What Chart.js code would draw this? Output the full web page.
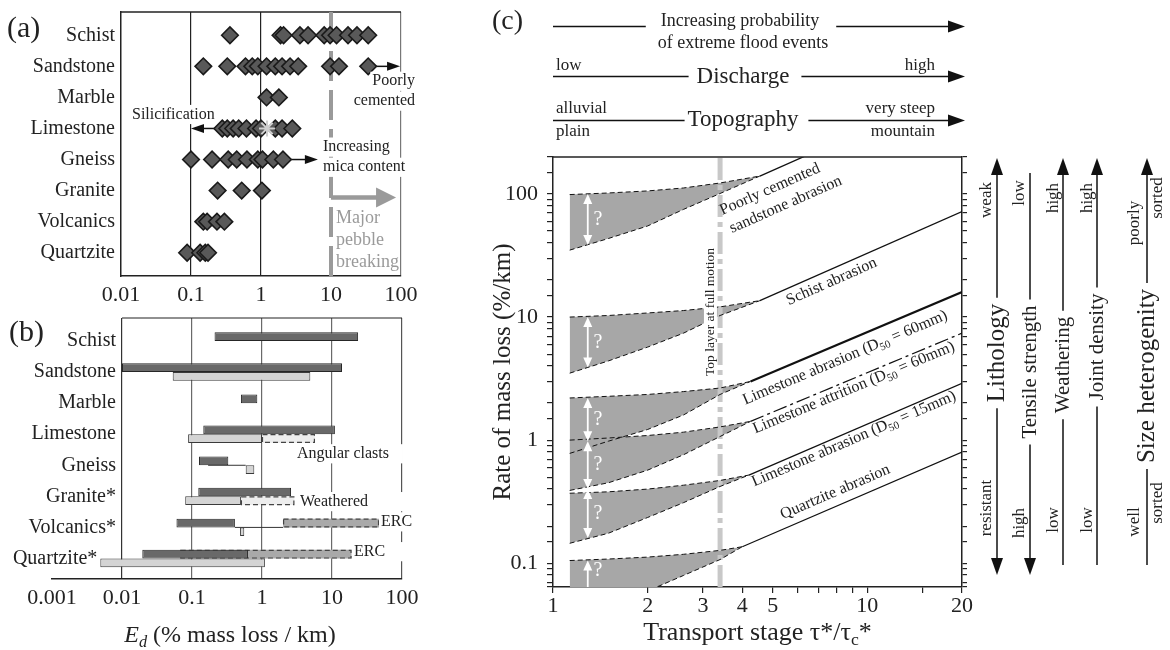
<!DOCTYPE html>
<html><head><meta charset="utf-8">
<script src="https://cdn.jsdelivr.net/npm/chart.js@4.4.0/dist/chart.umd.min.js"></script>
<style>
html,body{margin:0;padding:0;background:#fff;width:1170px;height:650px;overflow:hidden;}
.box{position:absolute;}
</style></head><body>
<div class="box" style="left:0;top:0;width:440px;height:312px"><canvas id="ca" width="440" height="312"></canvas></div>
<div class="box" style="left:0;top:300px;width:440px;height:350px"><canvas id="cb" width="440" height="350"></canvas></div>
<div class="box" style="left:440px;top:0;width:730px;height:650px"><canvas id="cc" width="730" height="650"></canvas></div>
<script>
const FONT = "'Liberation Serif','Times New Roman',serif";
Chart.defaults.font.family = FONT;
Chart.defaults.color = '#222';

// ---------- Panel (a) data ----------
const catsA = ['Schist','Sandstone','Marble','Limestone','Gneiss','Granite','Volcanics','Quartzite'];
const schistA = [0.36, 1.9, 2.1, 3.6, 4.7, 8.0, 9.7, 12, 17.5, 23.5, 34];
const sandstoneA = [0.15, 0.33, 0.6, 0.75, 0.9, 1.2, 1.6, 2.0, 2.6, 3.4, 9.7, 13, 34];
const marbleA = [1.2, 1.8];
const limestoneA = [0.28, 0.33, 0.4, 0.48, 0.62, 0.85, 1.0, 1.6, 2.0, 2.8];
const gneissA = [0.1, 0.2, 0.34, 0.45, 0.63, 0.9, 1.05, 1.5, 2.06];
const graniteA = [0.24, 0.53, 1.03];
const volcanicsA = [0.15, 0.17, 0.235, 0.3];
const quartziteA = [0.088, 0.135, 0.16, 0.175];
const starLimestoneA = [1.22];
const arrowCatA = [1, 3, 4];
const arrowFromA = [34, 0.28, 2.06];
const arrowToA = [97, 0.1, 6.5];
const breakLineA = 10;
const pebbleArrowA = [10, 85];
const pebbleArrowRowA = 5.22;
const tickLabelsA = ['0.01','0.1','1','10','100'];

// ---------- Panel (b) data ----------
const catsB = ['Schist','Sandstone','Marble','Limestone','Gneiss','Granite*','Volcanics*','Quartzite*'];
const darkLoB = [0.21, 0.01, 0.5, 0.145, 0.126, 0.123, 0.06, 0.0195];
const darkHiB = [23.6, 13.9, 0.857, 11.0, 0.33, 2.6, 0.41, 0.63];
const lightLoB = [null, 0.053, null, 0.088, 0.585, 0.08, 0.486, 0.0049];
const lightHiB = [null, 4.9, null, 1.0, 0.776, 0.5, 0.558, 1.1];
const extLoB = [null, null, null, 1.0, null, 0.5, null, null];
const extHiB = [null, null, null, 5.7, null, 2.9, null, null];
const ercLoB = [null, null, null, null, null, null, 2.0, 0.068];
const ercHiB = [null, null, null, null, null, null, 47, 19];
const linkLoB = [null, null, null, null, 0.17, null, 0.41, null];
const linkHiB = [null, null, null, null, 0.585, null, 2.0, null];
const tickLabelsB = ['0.001','0.01','0.1','1','10','100'];

// ---------- Panel (c) data ----------
const wedgeX = [1.13, 1.5, 2, 2.6, 3.4];
const sandUp = [99, 102, 106, 112, 123], sandLow = [35, 43.5, 55, 75, 101], sandMeet = [4.55, 140], sandEnd = 746;
const schistUp = [10, 10.3, 10.8, 11.3, 12.1], schistLow = [3.5, 4.4, 5.7, 7.4, 10.3], schistMeet = [4.55, 13.6], schistEnd = 72;
const lime60Up = [2.2, 2.27, 2.35, 2.48, 2.65], lime60Low = [0.78, 0.98, 1.22, 1.6, 2.35], lime60Meet = [4.25, 3.0], lime60End = 16;
const attrUp = [1.0, 1.04, 1.09, 1.16, 1.28], attrLow = [0.39, 0.45, 0.57, 0.76, 1.07], attrMeet = [4.25, 1.42], attrEnd = 7.4;
const lime15Up = [0.37, 0.38, 0.40, 0.43, 0.47], lime15Low = [0.145, 0.175, 0.235, 0.31, 0.42], lime15Meet = [4.2, 0.52], lime15End = 2.9;
const quartzUp = [0.105, 0.108, 0.112, 0.118, 0.127], quartzLow = [0.0315, 0.0432, 0.0594, 0.0794, 0.107], quartzMeet = [4.0, 0.136], quartzEnd = 0.8;
const topLayerX = 3.4;
const qArrowX = 1.29, qTextX = 1.39;
const qTop = [100, 10, 2.2, 0.98, 0.4, 0.105];
const qBot = [38.5, 3.9, 0.98, 0.4, 0.16, 0.05];
const qTextY = [62, 6.2, 1.47, 0.63, 0.25, 0.0875];
const tickLabelsCX = [1, 2, 3, 4, 5, 10, 20];
const tickLabelsCY = ['0.1','1','10','100'];
const labelXC = [4.9, 5.5, 7.7, 8.5, 9.06, 9.06, 7.9];
const labelYC = [109, 82, 19.4, 4.67, 2.66, 1.02, 0.378];
const labelLineC = [0, 0, 1, 2, 3, 4, 5];
const labelTextC = [
  [['Poorly cemented','']],
  [['sandstone abrasion','']],
  [['Schist abrasion','']],
  [['Limestone abrasion (D',''],['50','sub'],[' = 60mm)','']],
  [['Limestone attrition (D',''],['50','sub'],[' = 60mm)','']],
  [['Limestone abrasion (D',''],['50','sub'],[' = 15mm)','']],
  [['Quartzite abrasion','']]
];

// ---------- helpers ----------
function decade(v){ const l=Math.log10(v), r=Math.round(l); return Math.abs(l-r)<1e-7 ? r : null; }
function line(ctx,x1,y1,x2,y2,color,lw,dash){ ctx.beginPath(); ctx.moveTo(x1,y1); ctx.lineTo(x2,y2); ctx.strokeStyle=color; ctx.lineWidth=lw; ctx.setLineDash(dash||[]); ctx.stroke(); ctx.setLineDash([]); }
function txt(ctx,s,x,y,o){ o=o||{}; const size=o.size||16;
  ctx.font=(o.italic?'italic ':'')+size+'px '+FONT; ctx.textAlign=o.align||'left'; ctx.textBaseline='middle';
  if(o.bg){ const w=ctx.measureText(s).width; const x0=o.align==='center'?x-w/2:o.align==='right'?x-w:x;
    const pl=o.padL!=null?o.padL:2, pr=o.padR!=null?o.padR:2; ctx.fillStyle='#fff'; ctx.fillRect(x0-pl,y-size*0.6,w+pl+pr,size*1.2); }
  ctx.fillStyle=o.color||'#222'; ctx.fillText(s,x,y); }
function rich(ctx,segs,x,y,size,align,color){
  let w=0; const parts=segs.map(([t,st])=>{ const sub=st.indexOf('sub')>=0; const fs=sub?size*0.68:size;
    const f=(st.indexOf('i')===0?'italic ':'')+fs+'px '+FONT; ctx.font=f; const mw=ctx.measureText(t).width; w+=mw;
    return {t,f,mw,dy:sub?size*0.3:0}; });
  let cx=align==='center'?x-w/2:align==='right'?x-w:x;
  ctx.fillStyle=color||'#222'; ctx.textBaseline='middle'; ctx.textAlign='left';
  parts.forEach(p=>{ ctx.font=p.f; ctx.fillText(p.t,cx,y+p.dy); cx+=p.mw; }); return w; }
function head(ctx,x,y,ang,len,hw,color){ ctx.beginPath(); ctx.moveTo(x,y);
  ctx.lineTo(x-len*Math.cos(ang)-hw*Math.sin(ang), y-len*Math.sin(ang)+hw*Math.cos(ang));
  ctx.lineTo(x-len*Math.cos(ang)+hw*Math.sin(ang), y-len*Math.sin(ang)-hw*Math.cos(ang));
  ctx.closePath(); ctx.fillStyle=color; ctx.fill(); }
function arrow(ctx,x1,y1,x2,y2,o){ const ang=Math.atan2(y2-y1,x2-x1);
  let sx=x1,sy=y1,ex=x2,ey=y2; const h2=o.head2!==false;
  if(h2){ ex=x2-o.len*0.7*Math.cos(ang); ey=y2-o.len*0.7*Math.sin(ang); }
  if(o.head1){ sx=x1+o.len*0.7*Math.cos(ang); sy=y1+o.len*0.7*Math.sin(ang); }
  line(ctx,sx,sy,ex,ey,o.color,o.lw);
  if(h2) head(ctx,x2,y2,ang,o.len,o.hw,o.color);
  if(o.head1) head(ctx,x1,y1,ang+Math.PI,o.len,o.hw,o.color); }
function rtxt(ctx,s,x,y,o){ ctx.save(); ctx.translate(x,y); ctx.rotate(-Math.PI/2); txt(ctx,s,0,0,o); ctx.restore(); }
function noPad(s){ s.paddingTop=0; s.paddingBottom=0; s.paddingLeft=0; s.paddingRight=0; }

// ---------- Chart A ----------
const ptsA = [schistA,sandstoneA,marbleA,limestoneA,gneissA,graniteA,volcanicsA,quartziteA]
  .flatMap((arr,i)=>arr.map(v=>({x:v,y:i})));
const pluginA = {
  id:'annA',
  beforeDatasetsDraw(chart){
    const {ctx, chartArea:ca, scales:{x,y}} = chart; ctx.save();
    line(ctx, ca.left, ca.top, ca.right, ca.top, '#222', 1.5);
    const xb = x.getPixelForValue(breakLineA);
    line(ctx, xb, ca.top, xb, ca.bottom, '#9a9a9a', 4, [30,9]);
    const py = y.getPixelForValue(pebbleArrowRowA);
    arrow(ctx, xb, py, x.getPixelForValue(pebbleArrowA[1]), py, {color:'#9a9a9a', lw:4.5, len:20, hw:10});
    arrowCatA.forEach((c,i)=>{ const yy=y.getPixelForValue(c);
      arrow(ctx, x.getPixelForValue(arrowFromA[i]), yy, x.getPixelForValue(arrowToA[i]), yy, {color:'#111', lw:1.5, len:13, hw:4.5}); });
    ctx.restore();
  },
  afterDraw(chart){
    const {ctx, scales:{x,y}} = chart; ctx.save();
    txt(ctx,'(a)',7,29,{size:30});
    txt(ctx,'Silicification',132,y.getPixelForValue(2.55),{size:16,bg:true});
    txt(ctx,'Poorly',415,y.getPixelForValue(1.48),{size:16,align:'right',bg:true});
    txt(ctx,'cemented',415,y.getPixelForValue(2.12),{size:16,align:'right',bg:true});
    txt(ctx,'Increasing',323,y.getPixelForValue(3.6),{size:16,bg:true,padL:3});
    txt(ctx,'mica content',323,y.getPixelForValue(4.25),{size:16,bg:true,padL:3,padR:3});
    const xg = x.getPixelForValue(breakLineA)+5;
    txt(ctx,'Major',xg,y.getPixelForValue(5.9),{size:18,color:'#9a9a9a'});
    txt(ctx,'pebble',xg,y.getPixelForValue(6.6),{size:18,color:'#9a9a9a'});
    txt(ctx,'breaking',xg,y.getPixelForValue(7.3),{size:18,color:'#9a9a9a'});
    ctx.restore();
  }
};
new Chart(document.getElementById('ca'), {
  type:'scatter',
  data:{datasets:[
    {data:starLimestoneA.map(v=>({x:v,y:3})), pointStyle:'star', radius:8, backgroundColor:'#e8e8e8', borderColor:'#cfcfcf', borderWidth:2},
    {data:ptsA, pointStyle:'rectRot', radius:8.3, backgroundColor:'#595959', borderColor:'#1a1a1a', borderWidth:1.6}
  ]},
  options:{
    responsive:false, animation:false, events:[],
    layout:{padding:{left:0,right:39,top:12,bottom:0}},
    plugins:{legend:{display:false}, tooltip:{enabled:false}},
    scales:{
      x:{type:'logarithmic', min:0.01, max:100,
        afterFit:s=>{s.height=36; noPad(s);},
        ticks:{autoSkip:false, maxRotation:0, padding:6, font:{size:22}, color:'#222',
          callback:v=>{const d=decade(v); return d===null?'':tickLabelsA[d+2];}},
        grid:{drawTicks:false, lineWidth:1.2, color:c=>{ if(!c.tick) return 'rgba(0,0,0,0)'; const d=decade(c.tick.value);
          return (d===-1||d===0)?'#222':(d===2?'#777':'rgba(0,0,0,0)'); }},
        border:{color:'#222', width:1.5}},
      y:{type:'linear', min:-0.75, max:7.75, reverse:true, offset:false,
        afterBuildTicks:s=>{s.ticks=catsA.map((c,i)=>({value:i}));},
        afterFit:s=>{s.width=121; noPad(s);},
        ticks:{padding:6, font:{size:20}, color:'#222', callback:v=>catsA[v]},
        grid:{drawTicks:false, color:'rgba(0,0,0,0)'},
        border:{color:'#222', width:1.5}}
    }
  },
  plugins:[pluginA]
});

// ---------- Chart B ----------
const rangeData=(lo,hi)=>lo.map((v,i)=>v==null?null:{y:i,x:[v,hi[i]]}).filter(Boolean);
const pluginB = {
  id:'annB',
  beforeDatasetsDraw(chart){
    const {ctx, chartArea:ca, scales:{x,y}} = chart; ctx.save();
    line(ctx, x.getPixelForValue(0.01), ca.top, ca.right, ca.top, '#222', 1.2);
    linkLoB.forEach((v,i)=>{ if(v==null) return; const yy=y.getPixelForValue(i);
      line(ctx, x.getPixelForValue(v), yy, x.getPixelForValue(linkHiB[i]), yy, '#333', 1); });
    ctx.restore();
  },
  afterDatasetDraw(chart,args){
    const ds = chart.data.datasets[args.index]; if(!ds.dashed) return;
    const ctx = chart.ctx; ctx.save();
    ctx.strokeStyle='#444'; ctx.lineWidth=1.2; ctx.setLineDash([5,3]);
    args.meta.data.forEach(el=>{ const p=el.getProps(['x','y','base','height'],true);
      ctx.strokeRect(Math.min(p.base,p.x)+0.5, p.y-p.height/2+0.5, Math.abs(p.x-p.base)-1, p.height-1); });
    ctx.restore();
  },
  afterDraw(chart){
    const {ctx, chartArea:ca, scales:{x,y}} = chart; ctx.save();
    txt(ctx,'(b)',9,33,{size:30});
    const x01 = x.getPixelForValue(0.01);
    catsB.forEach((c,i)=>{ let xr = x01-6; if(lightLoB[i]!=null && lightLoB[i]<0.01) xr = x.getPixelForValue(lightLoB[i])-3;
      txt(ctx,c,xr,y.getPixelForValue(i),{size:20,align:'right'}); });
    txt(ctx,'Angular clasts',297,y.getPixelForValue(3.63),{size:16,bg:true,padR:14});
    txt(ctx,'Weathered',300,y.getPixelForValue(5.17),{size:16,bg:true,padR:36});
    txt(ctx,'ERC',381,y.getPixelForValue(5.82),{size:16,bg:true,padR:4});
    txt(ctx,'ERC',354,y.getPixelForValue(6.78),{size:16,bg:true,padR:22});
    rich(ctx,[['E','i'],['d','isub'],[' (% mass loss / km)','']],(ca.left+ca.right)/2+3,336,24,'center');
    ctx.restore();
  }
};
new Chart(document.getElementById('cb'), {
  type:'bar',
  data:{datasets:[
    {stack:'d', data:rangeData(darkLoB,darkHiB), backgroundColor:'#696969', borderColor:'#262626', borderWidth:1, borderSkipped:false},
    {stack:'l', data:rangeData(lightLoB,lightHiB), backgroundColor:'#d4d4d4', borderColor:'#3a3a3a', borderWidth:1, borderSkipped:false},
    {stack:'l', data:rangeData(extLoB,extHiB), backgroundColor:'#ededed', borderWidth:0, dashed:true},
    {stack:'d', data:rangeData(ercLoB,ercHiB), backgroundColor:'#a9a9a9', borderWidth:0, dashed:true}
  ]},
  options:{
    indexAxis:'y', responsive:false, animation:false, events:[],
    categoryPercentage:0.56, barPercentage:1,
    layout:{padding:{left:52,right:38,top:18,bottom:0}},
    plugins:{legend:{display:false}, tooltip:{enabled:false}},
    scales:{
      x:{type:'logarithmic', min:0.001, max:100, stacked:false,
        afterFit:s=>{s.height=71; noPad(s);},
        ticks:{autoSkip:false, maxRotation:0, padding:6, font:{size:22}, color:'#222',
          callback:v=>{const d=decade(v); return d===null?'':tickLabelsB[d+3];}},
        grid:{drawTicks:false, lineWidth:1.2, color:c=>{ if(!c.tick) return 'rgba(0,0,0,0)'; const d=decade(c.tick.value);
          if(d===-2) return '#333'; if(d===-1||d===0||d===1) return '#6a6a6a'; if(d===2) return '#555'; return 'rgba(0,0,0,0)'; }},
        border:{color:'#222', width:1.5}},
      y:{type:'linear', min:-0.74, max:7.66, reverse:true, stacked:true, offset:false,
        afterBuildTicks:s=>{s.ticks=catsB.map((c,i)=>({value:i}));},
        afterFit:s=>{s.width=0; noPad(s);},
        ticks:{display:false}, grid:{display:false, drawTicks:false, offset:false}, border:{display:false}}
    }
  },
  plugins:[pluginB]
});

// ---------- Chart C ----------
const WEDGE = '#a7a7a7';
const wedges = [
  [sandUp, sandLow, sandMeet, sandEnd],
  [schistUp, schistLow, schistMeet, schistEnd],
  [lime60Up, lime60Low, lime60Meet, lime60End],
  [attrUp, attrLow, attrMeet, attrEnd],
  [lime15Up, lime15Low, lime15Meet, lime15End],
  [quartzUp, quartzLow, quartzMeet, quartzEnd]
];
const dsC = [];
const base = {pointRadius:0, tension:0, borderColor:'#111', borderWidth:1, fill:false};
wedges.forEach(([up,low,meet])=>{
  dsC.push(Object.assign({}, base, {borderDash:[5,3], data:[...wedgeX.map((xv,i)=>({x:xv,y:up[i]})), {x:meet[0],y:meet[1]}]}));
  dsC.push(Object.assign({}, base, {borderDash:[5,3], fill:'-1', backgroundColor:WEDGE, data:[...wedgeX.map((xv,i)=>({x:xv,y:low[i]})), {x:meet[0],y:meet[1]}]}));
});
const solidStart = dsC.length;
wedges.forEach(([up,low,meet,end],k)=>{
  dsC.push(Object.assign({}, base, {borderWidth:k===2?2.2:1.3, borderDash:k===3?[14,4,3,4]:[], data:[{x:meet[0],y:meet[1]},{x:20,y:end}]}));
});
dsC.push(Object.assign({}, base, {borderColor:'#c8c8c8', borderWidth:5, borderDash:[22,5,5,5], data:[{x:topLayerX,y:0.064},{x:topLayerX,y:200}]}));

const pluginC = {
  id:'annC',
  afterDatasetsDraw(chart){
    const {ctx, chartArea:ca, scales:{x,y}} = chart; ctx.save();
    ctx.beginPath(); ctx.rect(ca.left,ca.top,ca.right-ca.left,ca.bottom-ca.top); ctx.clip();
    const ax = x.getPixelForValue(qArrowX);
    qTop.forEach((t,i)=>{ const y1=y.getPixelForValue(t), y2=y.getPixelForValue(qBot[i]);
      arrow(ctx, ax, y1, ax, y2, {color:'#fff', lw:1.8, len:10, hw:4.5, head1:true});
      txt(ctx,'?',x.getPixelForValue(qTextX),y.getPixelForValue(qTextY[i]),{size:20,color:'#fff',align:'center'}); });
    const tx = x.getPixelForValue(3.18), ty = y.getPixelForValue(11.0);
    ctx.save(); ctx.translate(tx,ty); ctx.rotate(-Math.PI/2);
    ctx.font='13.5px '+FONT; const tw=ctx.measureText('Top layer at full motion').width;
    ctx.fillStyle='#fff'; ctx.fillRect(-tw/2-3,-7,tw+6,13);
    txt(ctx,'Top layer at full motion',0,0,{size:13.5,align:'center'}); ctx.restore();
    labelTextC.forEach((segs,i)=>{ const d = chart.data.datasets[solidStart+labelLineC[i]].data;
      const ang = Math.atan2(y.getPixelForValue(d[1].y)-y.getPixelForValue(d[0].y), x.getPixelForValue(d[1].x)-x.getPixelForValue(d[0].x));
      ctx.save(); ctx.translate(x.getPixelForValue(labelXC[i]), y.getPixelForValue(labelYC[i])); ctx.rotate(ang);
      rich(ctx,segs,0,0,16,'center','#222'); ctx.restore(); });
    ctx.restore();
  },
  afterDraw(chart){
    const {ctx, chartArea:ca} = chart; ctx.save();
    line(ctx, ca.left, ca.top, ca.right, ca.top, '#222', 1.5);
    const L = ca.left, T = ca.right+3, C = ca.left+190, R = ca.right;
    const hopt = {color:'#111', lw:1.5, len:17, hw:6};
    ctx.font='18px '+FONT; let w = ctx.measureText('of extreme flood events').width;
    line(ctx, L, 26.5, C-w/2-12, 26.5, '#111', 1.5); arrow(ctx, C+w/2+8, 26.5, T, 26.5, hopt);
    txt(ctx,'Increasing probability',C-3,21,{size:18,align:'center'});
    txt(ctx,'of extreme flood events',C,43,{size:18,align:'center'});
    ctx.font='23px '+FONT; w = ctx.measureText('Discharge').width;
    line(ctx, L, 76.5, C-w/2-8, 76.5, '#111', 1.5); arrow(ctx, C+w/2+12, 76.5, T, 76.5, hopt);
    txt(ctx,'Discharge',C,77,{size:23,align:'center'});
    txt(ctx,'low',L+3,66,{size:17}); txt(ctx,'high',L+382,66,{size:17,align:'right'});
    ctx.font='23px '+FONT; w = ctx.measureText('Topography').width;
    line(ctx, L, 120.5, C-w/2-3, 120.5, '#111', 1.5); arrow(ctx, C+w/2+10, 120.5, T, 120.5, hopt);
    txt(ctx,'Topography',C,120,{size:23,align:'center'});
    txt(ctx,'alluvial',L+3,109,{size:17}); txt(ctx,'plain',L+3,132,{size:17});
    txt(ctx,'very steep',L+382,109,{size:17,align:'right'}); txt(ctx,'mountain',L+382,132,{size:17,align:'right'});
    const vopt = {color:'#111', lw:1.5, len:17, hw:6};
    function vAnn(xx, top, bot, label, cy, size, hTop, hBot){
      ctx.font=size+'px '+FONT; const lw=ctx.measureText(label).width;
      const g1=cy-lw/2-6, g2=cy+lw/2+6;
      if(hTop) arrow(ctx, xx, g1, xx, top, vopt); else line(ctx, xx, top, xx, g1, '#111', 1.5);
      if(hBot) arrow(ctx, xx, g2, xx, bot, vopt); else line(ctx, xx, g2, xx, bot, '#111', 1.5);
      rtxt(ctx,label,xx,cy,{size:size,align:'center'});
    }
    vAnn(R+35, ca.top+1, 575, 'Lithology', 353, 25, true, true);
    rtxt(ctx,'weak',R+25,200,{size:17,align:'center'}); rtxt(ctx,'resistant',R+25,508,{size:17,align:'center'});
    vAnn(R+68, 173, 575, 'Tensile strength', 372, 21, false, true);
    rtxt(ctx,'low',R+58,193,{size:17,align:'center'}); rtxt(ctx,'high',R+58,523,{size:17,align:'center'});
    vAnn(R+101, ca.top+1, 565, 'Weathering', 365, 21, true, false);
    rtxt(ctx,'high',R+92,198,{size:17,align:'center'}); rtxt(ctx,'low',R+92,520,{size:17,align:'center'});
    vAnn(R+135, ca.top+1, 565, 'Joint density', 347, 21, true, false);
    rtxt(ctx,'high',R+126,198,{size:17,align:'center'}); rtxt(ctx,'low',R+126,520,{size:17,align:'center'});
    vAnn(R+185, ca.top+1, 565, 'Size heterogenity', 376, 25, true, false);
    rtxt(ctx,'poorly',R+173,223,{size:17,align:'center'}); rtxt(ctx,'sorted',R+196,198,{size:17,align:'center'});
    rtxt(ctx,'well',R+173,522,{size:17,align:'center'}); rtxt(ctx,'sorted',R+196,503,{size:17,align:'center'});
    rich(ctx,[['Transport stage τ*/τ',''],['c','sub'],['*','']],(ca.left+ca.right)/2,633,26,'center','#222');
    txt(ctx,'(c)',52,22,{size:28});
    ctx.restore();
  }
};
new Chart(document.getElementById('cc'), {
  type:'line',
  data:{datasets:dsC},
  options:{
    responsive:false, animation:false, events:[],
    layout:{padding:{left:40,right:203,top:157,bottom:0}},
    plugins:{legend:{display:false}, tooltip:{enabled:false}, filler:{drawTime:'beforeDatasetsDraw'}},
    scales:{
      x:{type:'logarithmic', min:1, max:20,
        afterFit:s=>{s.height=63; noPad(s);},
        ticks:{autoSkip:false, maxRotation:0, padding:0, font:{size:22}, color:'#222',
          callback:v=>tickLabelsCX.some(t=>Math.abs(t-v)/t<1e-7)?String(v):''},
        grid:{drawOnChartArea:false, tickLength:6, color:'#222', lineWidth:1.2},
        border:{color:'#222', width:1.5}},
      y:{type:'logarithmic', min:0.064, max:200,
        afterFit:s=>{s.width=73; noPad(s);},
        title:{display:true, text:'Rate of mass loss (%/km)', font:{size:25}, color:'#222', padding:{top:8,bottom:0}},
        ticks:{autoSkip:false, padding:9, font:{size:22}, color:'#222',
          callback:v=>{const d=decade(v); return (d===null||d<-1||d>2)?'':tickLabelsCY[d+1];}},
        grid:{drawOnChartArea:false, tickLength:6, color:'#222', lineWidth:1.2},
        border:{color:'#222', width:1.5}},
      y2:{type:'logarithmic', position:'right', min:0.064, max:200,
        afterFit:s=>{s.width=5; noPad(s);},
        ticks:{display:false},
        grid:{drawOnChartArea:false, tickLength:5, color:'#222', lineWidth:1.2},
        border:{color:'#222', width:1.5}}
    }
  },
  plugins:[pluginC]
});
</script>
</body></html>
